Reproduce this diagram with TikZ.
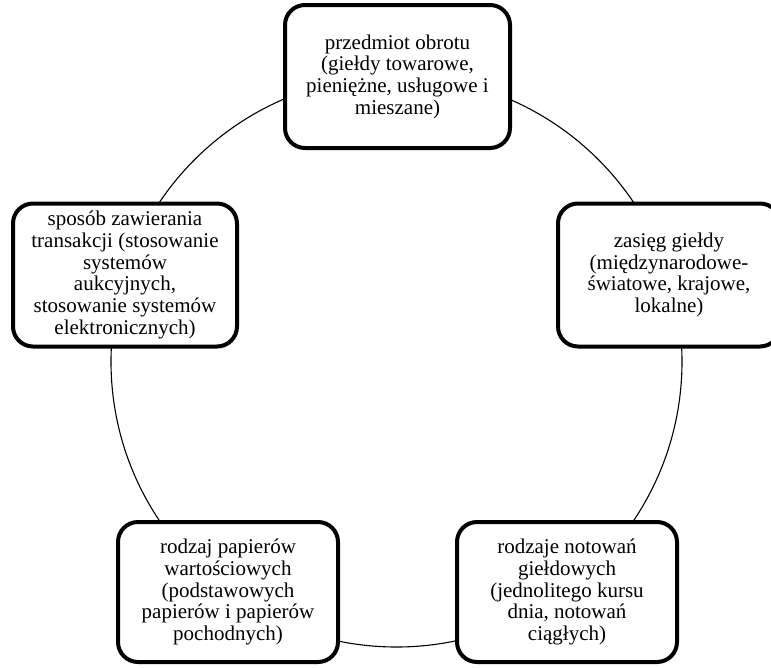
\documentclass[tikz,border=0pt]{standalone}
\usepackage{fontspec}
\setmainfont{Liberation Serif}
\begin{document}
\begin{tikzpicture}[x=1pt,y=-1pt,
  topicbox/.style={draw=black, line width=4pt, rounded corners=20pt, fill=white,
    minimum width=222pt, minimum height=143pt, inner sep=0pt, align=center,
    font=\fontsize{21}{21.7}\selectfont},
  ring/.style={draw=black, line width=1.1pt}]
\useasboundingbox (0,0) rectangle (771,667);
\path[ring] (396.5,361.5) circle[radius=285.5pt];
\node[topicbox, minimum width=225pt] (top) at (397.5,76.5)
  {przedmiot obrotu\\(giełdy towarowe,\\pieniężne, usługowe i\\mieszane)};
\node[topicbox] (right) at (669,275)
  {zasięg giełdy\\(międzynarodowe-\\światowe, krajowe,\\lokalne)};
\node[topicbox, minimum width=224pt] (left) at (125,275)
  {sposób zawierania\\transakcji (stosowanie\\systemów\\aukcyjnych,\\stosowanie systemów\\elektronicznych)};
\node[topicbox, minimum width=220pt, minimum height=140pt] (bl) at (228,592)
  {rodzaj papierów\\wartościowych\\(podstawowych\\papierów i papierów\\pochodnych)};
\node[topicbox, minimum width=220pt, minimum height=140pt] (br) at (567,592)
  {rodzaje notowań\\giełdowych\\(jednolitego kursu\\dnia, notowań\\ciągłych)};
\end{tikzpicture}
\end{document}
